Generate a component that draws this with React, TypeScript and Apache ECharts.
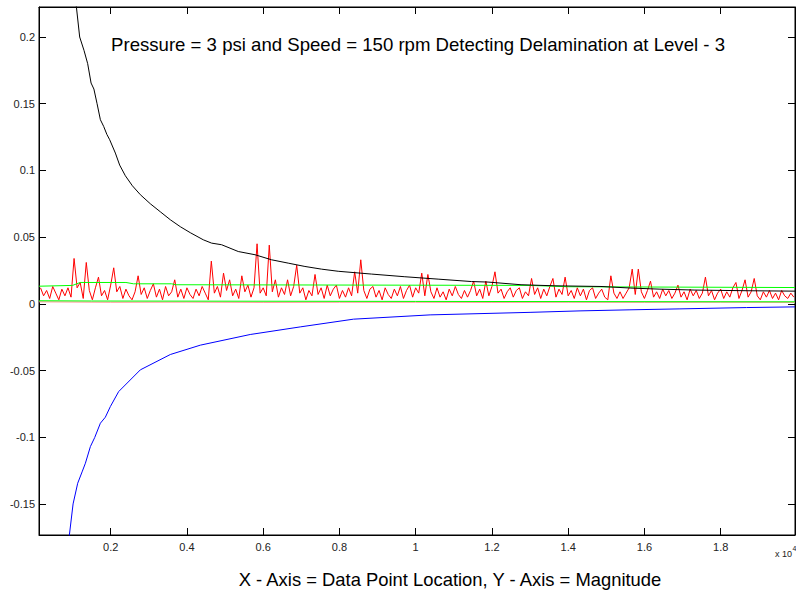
import React, { useEffect, useRef } from "react";
import * as echarts from "echarts";

// ---- data ----
const X_MIN = 120;
const X_MAX = 19950;
const Y_MIN = -0.1733;
const Y_MAX = 0.2225;

const xTicks = [2000, 4000, 6000, 8000, 10000, 12000, 14000, 16000, 18000];
const yTicks = [-0.15, -0.1, -0.05, 0, 0.05, 0.1, 0.15, 0.2];

// red signal, sampled every 80 points starting at 160
const RED_X0 = 160;
const RED_DX = 80;
const redValues = [
  0.012, 0.006, 0.010, 0.004, 0.013, 0.008, 0.003, 0.011, 0.006, 0.012,
  0.005, 0.034, 0.012, 0.016, 0.004, 0.031, 0.010, 0.003, 0.012, 0.020,
  0.006, 0.010, 0.003, 0.014, 0.027, 0.009, 0.013, 0.004, 0.011, 0.006,
  0.003, 0.009, 0.021, 0.007, 0.012, 0.004, 0.010, 0.015, 0.005, 0.011,
  0.003, 0.013, 0.006, 0.009, 0.018, 0.005, 0.011, 0.004, 0.012, 0.007,
  0.004, 0.011, 0.006, 0.013, 0.008, 0.003, 0.032, 0.008, 0.013, 0.005,
  0.023, 0.010, 0.018, 0.006, 0.011, 0.004, 0.021, 0.009, 0.014, 0.005,
  0.012, 0.045, 0.008, 0.012, 0.006, 0.044, 0.009, 0.018, 0.005, 0.012,
  0.007, 0.018, 0.006, 0.013, 0.029, 0.008, 0.012, 0.003, 0.010, 0.006,
  0.022, 0.007, 0.012, 0.004, 0.014, 0.006, 0.011, 0.014, 0.004, 0.010,
  0.005, 0.012, 0.006, 0.024, 0.008, 0.033, 0.010, 0.004, 0.011, 0.013,
  0.005, 0.010, 0.003, 0.012, 0.007, 0.004, 0.011, 0.006, 0.013, 0.004,
  0.010, 0.014, 0.005, 0.012, 0.008, 0.023, 0.006, 0.022, 0.009, 0.004,
  0.012, 0.005, 0.009, 0.003, 0.011, 0.006, 0.013, 0.007, 0.004, 0.010,
  0.005, 0.010, 0.017, 0.006, 0.011, 0.004, 0.017, 0.006, 0.013, 0.024,
  0.008, 0.011, 0.004, 0.009, 0.012, 0.005, 0.010, 0.012, 0.004, 0.009,
  0.006, 0.019, 0.007, 0.012, 0.004, 0.011, 0.006, 0.013, 0.019, 0.005,
  0.011, 0.007, 0.020, 0.006, 0.010, 0.004, 0.012, 0.006, 0.011, 0.003,
  0.010, 0.012, 0.004, 0.008, 0.011, 0.005, 0.003, 0.021, 0.008, 0.004,
  0.009, 0.004, 0.008, 0.012, 0.026, 0.007, 0.026, 0.009, 0.004, 0.010,
  0.017, 0.005, 0.009, 0.004, 0.011, 0.006, 0.010, 0.004, 0.008, 0.014,
  0.005, 0.009, 0.003, 0.011, 0.006, 0.010, 0.004, 0.008, 0.020, 0.006,
  0.010, 0.003, 0.008, 0.011, 0.004, 0.009, 0.005, 0.012, 0.016, 0.004,
  0.010, 0.018, 0.005, 0.009, 0.019, 0.006, 0.003, 0.009, 0.005, 0.010,
  0.004, 0.008, 0.003, 0.010, 0.006, 0.004, 0.008, 0.005,
];

const blackX = [1060, 1101, 1187, 1300, 1397, 1486, 1560, 1643, 1730, 1816, 1900, 1974, 2123, 2236, 2385, 2569, 2778, 3040, 3302, 3565, 3827, 4089, 4429, 4647, 4909, 5347, 5785, 6220, 6657, 7095, 7530, 7968, 8841, 9716, 10589, 11462, 11899, 12764, 13647, 14861, 15647, 16408, 17325, 18714, 19950];
const blackY = [0.228, 0.2225, 0.2, 0.19, 0.18, 0.1655, 0.161, 0.15, 0.138, 0.133, 0.127, 0.123, 0.113, 0.104, 0.096, 0.0885, 0.0818, 0.075, 0.069, 0.063, 0.0578, 0.0533, 0.048, 0.0455, 0.0443, 0.0392, 0.0368, 0.033, 0.0305, 0.028, 0.026, 0.0244, 0.0223, 0.0203, 0.0185, 0.0167, 0.0163, 0.0143, 0.0135, 0.013, 0.0118, 0.011, 0.0103, 0.0098, 0.0095];

const blueX = [880, 917, 1014, 1135, 1250, 1337, 1468, 1580, 1730, 1860, 1992, 2209, 2778, 3565, 4351, 5661, 6972, 8369, 10379, 13000, 14311, 15621, 16932, 18680, 19950];
const blueY = [-0.178, -0.1733, -0.15, -0.1345, -0.126, -0.1195, -0.107, -0.1003, -0.0895, -0.085, -0.077, -0.0658, -0.0495, -0.038, -0.031, -0.023, -0.0173, -0.0115, -0.0083, -0.0064, -0.0053, -0.0045, -0.0038, -0.0028, -0.0023];

const greenUpX = [120, 1000, 1200, 2400, 2600, 3600, 3700, 13000, 14000, 19950];
const greenUpY = [0.0132, 0.0138, 0.016, 0.016, 0.015, 0.015, 0.0143, 0.0138, 0.0128, 0.0122];

const greenLowX = [120, 1500, 10000, 19950];
const greenLowY = [0.0023, 0.0021, 0.0018, 0.0015];

const pinkX = [120, 2000, 4000, 6000, 8000, 10000, 12000, 14000, 16000, 18000, 19950];
const pinkY = [0.0015, 0.0012, 0.0013, 0.0011, 0.0012, 0.0012, 0.0011, 0.0012, 0.0011, 0.0012, 0.0011];

const TITLE = "Pressure = 3 psi and Speed = 150 rpm Detecting Delamination at Level - 3";
const XLABEL = "X - Axis = Data Point Location, Y - Axis = Magnitude";

const zip = (xs: number[], ys: number[]) => xs.map((x, i) => [x, ys[i]]);

export default function App() {
  const ref = useRef<HTMLDivElement>(null);
  useEffect(() => {
    if (!ref.current) return;
    const chart = echarts.init(ref.current, undefined, { renderer: "svg" });
    const FONT = "Liberation Sans, Arial, sans-serif";
    const mkLine = () => ({ show: true, onZero: false, lineStyle: { color: "#000", width: 1 } });
    const mkTick = (vals: number[]) => ({
      show: true, inside: true, length: 7, customValues: vals.slice(),
      lineStyle: { color: "#000", width: 1 },
    });
    const redData = redValues.map((v, i) => [RED_X0 + i * RED_DX, v]);
    const line = (data: number[][], color: string, z = 2) => ({
      type: "line",
      data,
      showSymbol: false,
      symbol: "none",
      lineStyle: { color, width: 1 },
      clip: true,
      z,
      silent: true,
    });
    chart.setOption({
      animation: false,
      backgroundColor: "#fff",
      grid: {
        left: 39, top: 7, right: 1, bottom: 59, containLabel: false, outerBoundsMode: "none",
        show: true, borderColor: "#000", borderWidth: 1, backgroundColor: "transparent",
      },
      xAxis: [
        {
          type: "value", min: X_MIN, max: X_MAX, position: "bottom",
          axisLine: mkLine(), axisTick: mkTick(xTicks), splitLine: { show: false },
          axisLabel: {
            customValues: xTicks.slice(), margin: 6, color: "#222", fontSize: 11, fontFamily: FONT,
            formatter: (v: number) => String(+(v / 10000).toFixed(1)),
          },
        },
        {
          type: "value", min: X_MIN, max: X_MAX, position: "top",
          axisLine: mkLine(), axisTick: mkTick(xTicks), splitLine: { show: false },
          axisLabel: { show: false, customValues: xTicks.slice() },
        },
      ],
      yAxis: [
        {
          type: "value", min: Y_MIN, max: Y_MAX, position: "left",
          axisLine: mkLine(), axisTick: mkTick(yTicks), splitLine: { show: false },
          axisLabel: {
            customValues: yTicks.slice(), margin: 4, color: "#222", fontSize: 11, fontFamily: FONT,
            formatter: (v: number) => (Math.abs(v) < 1e-9 ? "0" : String(+v.toFixed(2))),
          },
        },
        {
          type: "value", min: Y_MIN, max: Y_MAX, position: "right",
          axisLine: mkLine(), axisTick: mkTick(yTicks), splitLine: { show: false },
          axisLabel: { show: false, customValues: yTicks.slice() },
        },
      ],
      series: [
        line(zip(pinkX, pinkY), "#ff8c8c", 2),
        line(redData, "#ff0000", 3),
        line(zip(greenUpX, greenUpY), "#00ff00", 4),
        line(zip(greenLowX, greenLowY), "#00ff00", 4),
        line(zip(blackX, blackY), "#000000", 5),
        line(zip(blueX, blueY), "#0000ff", 5),
      ],
      graphic: [
        {
          type: "text", x: 418, y: 44, z: 100,
          style: { text: TITLE, fill: "#000", font: `18.6px ${FONT}`, textAlign: "center", textVerticalAlign: "middle" },
        },
        {
          type: "text", x: 450, y: 579, z: 100,
          style: { text: XLABEL, fill: "#000", font: `18.4px ${FONT}`, textAlign: "center", textVerticalAlign: "middle" },
        },
        {
          type: "text", x: 792, y: 554, z: 100,
          style: { text: "x 10", fill: "#222", font: `9px ${FONT}`, textAlign: "right", textVerticalAlign: "middle" },
        },
        {
          type: "text", x: 792.5, y: 548, z: 100,
          style: { text: "4", fill: "#222", font: `7px ${FONT}`, textAlign: "left", textVerticalAlign: "middle" },
        },
      ],
    });
    return () => chart.dispose();
  }, []);
  return (
    <div
      ref={ref}
      style={{ position: "fixed", left: 0, top: 0, width: 796, height: 594, background: "#fff" }}
    />
  );
}
